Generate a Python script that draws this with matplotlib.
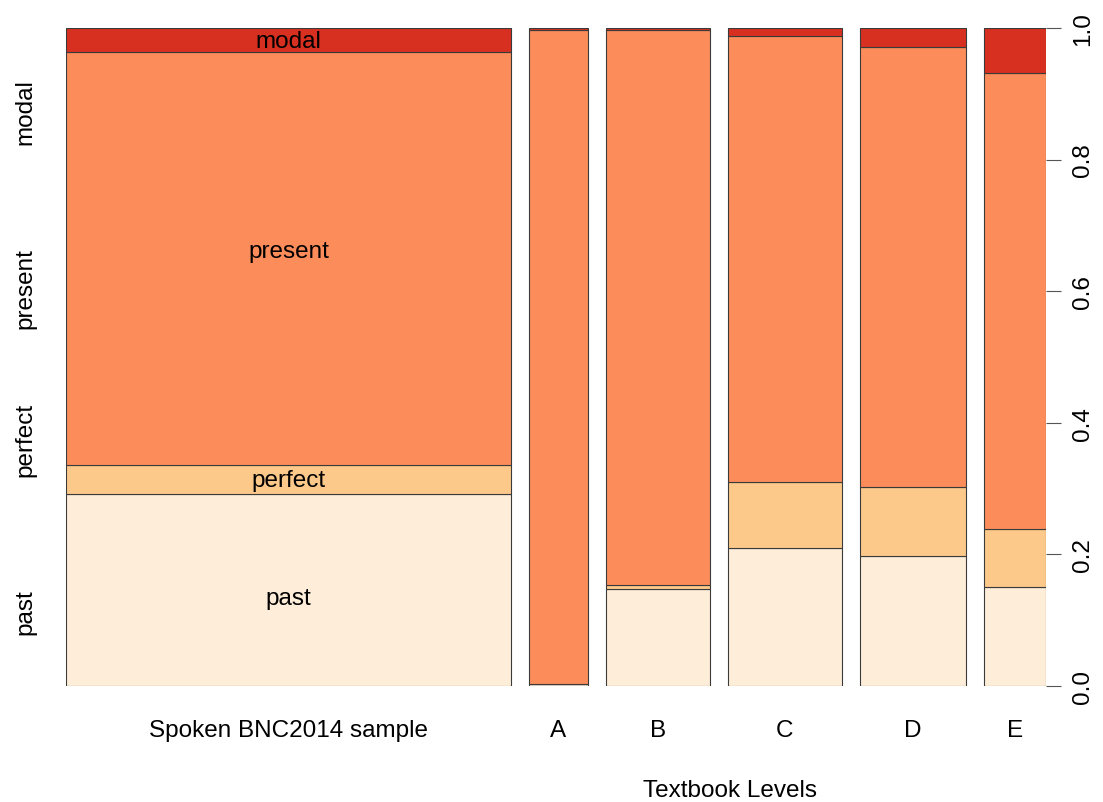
#!/usr/bin/python3
import matplotlib.pyplot as plt
from matplotlib.patches import Rectangle

plt.rcParams['font.family'] = ['Liberation Sans', 'DejaVu Sans']

# columns of the mosaic, widths proportional to sample size
groups = ['Spoken BNC2014 sample', 'A', 'B', 'C', 'D', 'E']
widths = [445, 58, 104, 114, 106, 62]

# categories, bottom to top
categories = ['past', 'perfect', 'present', 'modal']
colors = ['#FEEDD8', '#FDC98A', '#FC8D5A', '#D73020']

# share of each category per group (past, perfect, present, modal)
past = [0.292, 0.003, 0.147, 0.210, 0.198, 0.150]
perfect = [0.044, 0.000, 0.006, 0.100, 0.104, 0.089]
present = [0.6275, 0.994, 0.844, 0.678, 0.669, 0.693]
modal = [0.0365, 0.003, 0.003, 0.012, 0.029, 0.068]

# labels inside the first column and their heights
inner_pos = [0.134, 0.313, 0.661, 0.980]

# left side labels and their positions on the 0..1 scale
side_labels = ['past', 'perfect', 'present', 'modal']
side_pos = [0.114, 0.375, 0.606, 0.874]

yticks = [0.0, 0.2, 0.4, 0.6, 0.8, 1.0]
gap = 18
fs = 17.5

fig = plt.figure(figsize=(11.03, 8.03), dpi=100)
ax = fig.add_axes([66 / 1103, 1 - 687 / 803, 980 / 1103, 658 / 803])

shares = [past, perfect, present, modal]
x = 0
centers = []
for i, w in enumerate(widths):
    bottom = 0
    for k in range(len(categories)):
        h = shares[k][i]
        ax.add_patch(Rectangle((x, bottom), w, h, facecolor=colors[k],
                               edgecolor='#3a3a3a', linewidth=0.8))
        bottom += h
    centers.append(x + w / 2)
    x += w + gap

for cat, p in zip(categories, inner_pos):
    ax.text(centers[0], p, cat, ha='center', va='center', fontsize=fs)

ax.set_xlim(0, x - gap)
ax.set_ylim(0, 1)
for s in ax.spines.values():
    s.set_visible(False)

ax.yaxis.tick_right()
ax.set_yticks(yticks)
ax.set_yticklabels([f'{t:.1f}' for t in yticks], rotation=90, va='center',
                   fontsize=fs)
ax.tick_params(axis='y', length=11, width=0.8, color='#555555', pad=8)

ax.set_xticks(centers)
ax.set_xticklabels(groups, fontsize=fs)
ax.tick_params(axis='x', length=0, pad=24)

for lab, p in zip(side_labels, side_pos):
    ax.text(-41, p, lab, rotation=90, ha='center', va='center', fontsize=fs,
            transform=ax.transData)

fig.text(730 / 1103, 1 - 791 / 803, 'Textbook Levels', ha='center',
         va='center', fontsize=fs)

fig.savefig('out.png', dpi=100)
